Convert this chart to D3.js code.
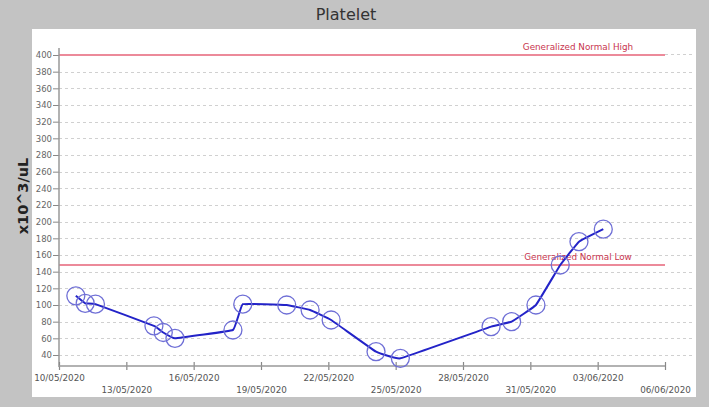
<!DOCTYPE html>
<html>
<head>
<meta charset="utf-8">
<script src="https://cdn.jsdelivr.net/npm/d3@7"></script>
<style>
html,body{margin:0;padding:0;background:#c3c3c3;}
svg{display:block;}
</style>
</head>
<body>
<svg id="chart" width="709" height="407"></svg>
<script>
// ---- data ----
const title = "Platelet";
const yLabel = "x10^3/uL";
const dates = ["2020-05-10T18:00","2020-05-11T04:00","2020-05-11T15:00","2020-05-14T05:30","2020-05-14T15:30","2020-05-15T04:00","2020-05-17T18:00","2020-05-18T04:30","2020-05-20T03:30","2020-05-21T04:30","2020-05-22T03:00","2020-05-24T03:00","2020-05-25T05:00","2020-05-29T06:00","2020-05-30T04:00","2020-05-31T06:00","2020-06-01T08:00","2020-06-02T04:00","2020-06-03T06:00"];
const values = [111,102,101,75,67,60,70,101,100,94,82,44,36,74,80,100,148,176,191];
const xTickLabels = ["10/05/2020","13/05/2020","16/05/2020","19/05/2020","22/05/2020","25/05/2020","28/05/2020","31/05/2020","03/06/2020","06/06/2020"];
const yTicks = [40,60,80,100,120,140,160,180,200,220,240,260,280,300,320,340,360,380,400];
const refNames = ["Generalized Normal High","Generalized Normal Low"];
const refValues = [400,150];

// ---- drawing ----
const parse = d3.utcParse("%Y-%m-%dT%H:%M");
const parseTick = d3.utcParse("%d/%m/%Y");
const data = dates.map((d,i)=>({t:parse(d), v:values[i]}));
const tickDates = xTickLabels.map(parseTick);
const FONT = "DejaVu Sans, Verdana, sans-serif";

const svg = d3.select("#chart");
svg.append("rect").attr("x",0).attr("y",0).attr("width",709).attr("height",407).attr("fill","#c3c3c3");
svg.append("rect").attr("x",32).attr("y",29).attr("width",664).attr("height",368).attr("fill","#ffffff");

svg.append("text").attr("x",346).attr("y",20).attr("text-anchor","middle")
  .attr("font-family",FONT).attr("font-size",16).attr("fill","#333")
  .text(title);

const x = d3.scaleUtc().domain([tickDates[0], tickDates[tickDates.length-1]]).range([59,665]);
const y = d3.scaleLinear().domain([25.6,408.4]).range([367,48]);

// grid
svg.append("g").selectAll("line").data(yTicks.filter(v=>!refValues.includes(v))).join("line")
  .attr("x1",59).attr("x2",693).attr("y1",d=>Math.round(y(d))+0.5).attr("y2",d=>Math.round(y(d))+0.5)
  .attr("stroke","#d0d0d0").attr("stroke-width",1).attr("stroke-dasharray","3,3");

// reference lines
refValues.forEach((rv,i)=>{
  const yy = 2*Math.round(y(rv)/2);
  if (yTicks.includes(rv)) {
    svg.append("line").attr("x1",665).attr("x2",693).attr("y1",yy+0.5).attr("y2",yy+0.5)
      .attr("stroke","#d0d0d0").attr("stroke-width",1).attr("stroke-dasharray","3,3");
  }
  svg.append("line").attr("x1",59).attr("x2",665).attr("y1",yy+1).attr("y2",yy+1)
    .attr("stroke","#ec8a9a").attr("stroke-width",2);
  svg.append("text").attr("x",578).attr("y",yy-4).attr("text-anchor","middle")
    .attr("font-family",FONT).attr("font-size",8.8).attr("fill","#c8344e")
    .text(refNames[i]);
});

// y axis
const yAxis = d3.axisLeft(y).tickValues(yTicks).tickSize(6).tickPadding(1).tickFormat(d3.format("d"));
const gy = svg.append("g").attr("transform","translate(59,0)").call(yAxis);
gy.select(".domain").remove();
gy.selectAll(".tick line").attr("stroke","#888");
gy.selectAll(".tick text").attr("font-family",FONT).attr("font-size",8.5).attr("fill","#666");
svg.append("line").attr("x1",59).attr("x2",59).attr("y1",48).attr("y2",367).attr("stroke","#999").attr("stroke-width",1.5);

// x axis
const xAxis = d3.axisBottom(x).tickValues(tickDates).tickSize(4).tickFormat((d,i)=>xTickLabels[i]);
const gx = svg.append("g").attr("transform","translate(0,366)").call(xAxis);
gx.select(".domain").remove();
gx.selectAll(".tick line").attr("y1",-4).attr("y2",4).attr("stroke","#888").attr("stroke-width",1.2);
gx.selectAll(".tick text").attr("font-family",FONT).attr("font-size",8.8).attr("fill","#555")
  .attr("dy",null).attr("y",(d,i)=> i%2===0 ? 15 : 27);
svg.append("line").attr("x1",59).attr("x2",665).attr("y1",366).attr("y2",366).attr("stroke","#999").attr("stroke-width",1.5);

// y label
svg.append("text").attr("transform","translate(28,196) rotate(-90)").attr("text-anchor","middle")
  .attr("font-family",FONT).attr("font-weight","bold").attr("font-size",14.5).attr("fill","#222")
  .text(yLabel);

// line
const line = d3.line().x(d=>x(d.t)).y(d=>y(d.v)).curve(d3.curveCardinal.tension(0.8));
svg.append("path").datum(data).attr("d",line).attr("fill","none").attr("stroke","#2323c8").attr("stroke-width",2);

// circles
svg.append("g").selectAll("circle").data(data).join("circle")
  .attr("cx",d=>x(d.t)).attr("cy",d=>y(d.v)).attr("r",9)
  .attr("fill","none").attr("stroke","#6f6fd6").attr("stroke-width",1.3);
</script>
</body>
</html>
